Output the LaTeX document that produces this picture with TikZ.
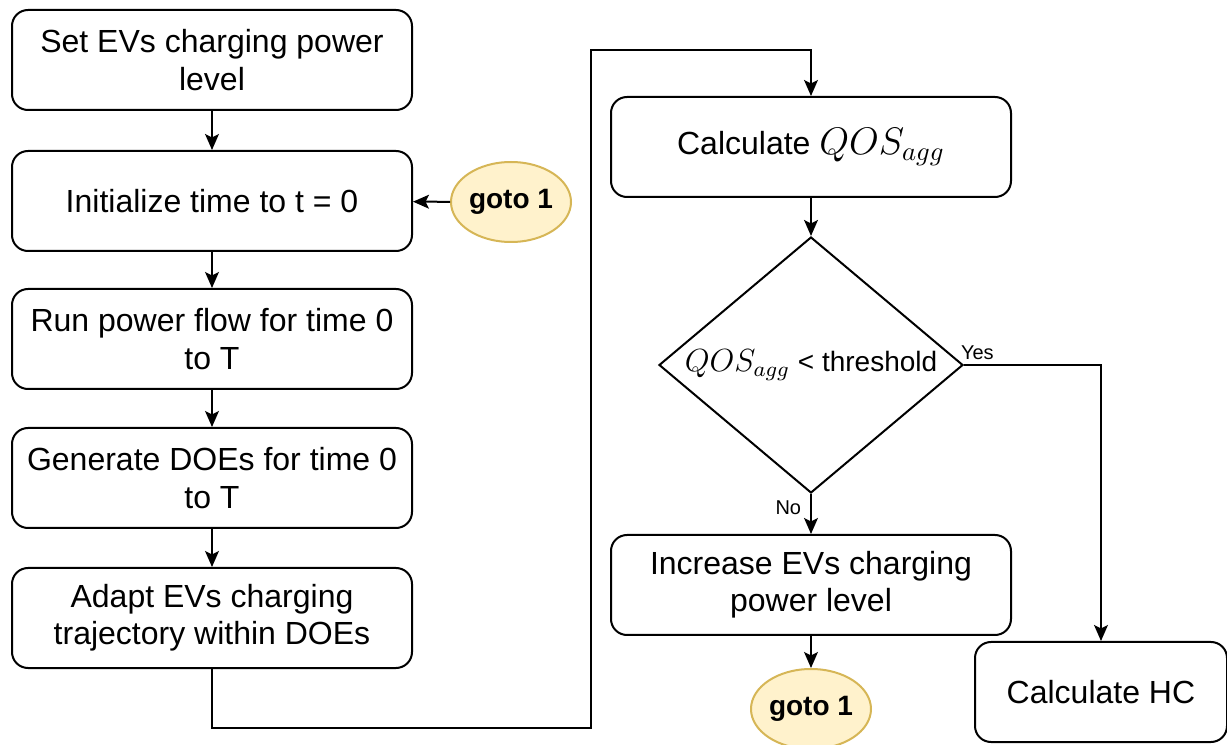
\documentclass[tikz,border=0pt]{standalone}
\usepackage{fontspec}
\setmainfont{Liberation Sans}
\usetikzlibrary{shapes.geometric, arrows.meta}

\tikzset{
	box/.style = {draw, rounded corners = 6pt, line width = 0.75pt, align = center,
		minimum width = 150pt, minimum height = 37.5pt, inner sep = 2pt,
		font = \fontsize{12}{14}\selectfont},
	gotonode/.style = {ellipse, draw = gotoline, fill = gotofill, line width = 0.75pt,
		minimum width = 45pt, minimum height = 30pt, inner sep = 0pt,
		font = \fontsize{10.5}{12}\selectfont\bfseries},
	decision/.style = {diamond, draw, line width = 0.75pt, inner sep = 0pt, shape aspect = 1.19,
		minimum width = 114pt, minimum height = 96pt, font = \fontsize{10.5}{12}\selectfont},
	flow/.style = {line width = 0.75pt, -{Stealth[length = 6pt, width = 5.2pt, inset = 1.3pt]}},
	lbl/.style = {font = \fontsize{7.5}{9}\selectfont}
}
\definecolor{gotofill}{HTML}{FFF2CC}
\definecolor{gotoline}{HTML}{D6B656}

\begin{document}
\begin{tikzpicture}[x = 0.375pt, y = -0.375pt]

	\useasboundingbox (0, 0) rectangle (1227, 745);

	% Left column
	
	\node [box] (setlevel) at (212, 60) {Set EVs charging power\\level};
	\node [box] (inittime) at (212, 201) {Initialize time to t = 0};
	\node [box] (runflow) at (212, 339) {Run power flow for time 0\\to T};
	\node [box] (gendoe) at (212, 478) {Generate DOEs for time 0\\to T};
	\node [box] (adapt) at (212, 618) {Adapt EVs charging\\trajectory within DOEs};
	
	\node [gotonode] (gotoA) at (511, 202) {goto 1};
	
	% Right column
	
	\node [box] (calcqos) at (811, 147) {Calculate {\fontsize{14}{16}\selectfont$QOS_{agg}$}};
	\node [decision] (check) at (811, 365) {{\fontsize{12}{14}\selectfont$QOS_{agg}$} < threshold};
	\node [box] (increase) at (811, 585) {Increase EVs charging\\power level};
	\node [gotonode] (gotoB) at (811, 709) {goto 1};
	\node [box, minimum width = 94.5pt] (calchc) at (1101, 692) {Calculate HC};
	
	\coordinate (turnA) at (591, 728);
	\coordinate (turnB) at (811, 50);
	
	% Connectors
	
	\draw [flow] (setlevel) -- (inittime);
	\draw [flow] (inittime) -- (runflow);
	\draw [flow] (runflow) -- (gendoe);
	\draw [flow] (gendoe) -- (adapt);
	\draw [flow] (gotoA) -- (inittime);
	\draw [flow] (adapt.south) |- (turnA) |- (turnB) -- (calcqos.north);
	\draw [flow] (calcqos) -- (check);
	\draw [flow] (check.south) -- node [lbl, pos = 0.35, left] {No} (increase.north);
	\draw [flow] (increase) -- (gotoB);
	\draw [flow] (check.east) -| node [lbl, pos = 0, anchor = south west, xshift = -3pt, inner sep = 1.5pt] {Yes} (calchc.north);

\end{tikzpicture}
\end{document}
